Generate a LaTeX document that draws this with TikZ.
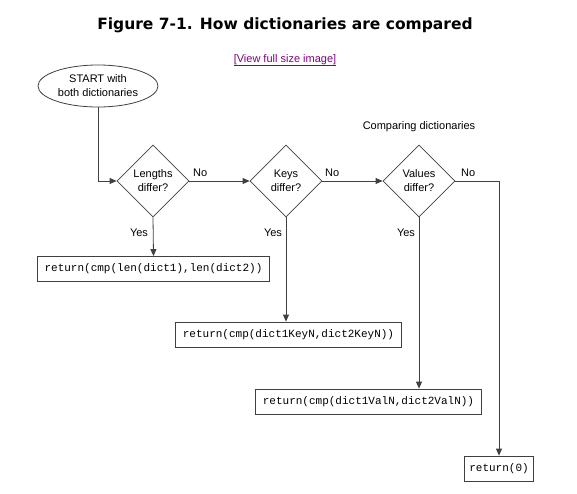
\documentclass[tikz,border=0pt]{standalone}
\usepackage{fontspec}
\setmainfont{Liberation Sans}
\setmonofont{Liberation Mono}
\newfontfamily\titlefont{DejaVu Sans}
\usetikzlibrary{shapes.geometric,arrows.meta}
\definecolor{ln}{HTML}{404040}
\definecolor{linkc}{HTML}{800080}
\begin{document}
\begin{tikzpicture}[x=1pt,y=-1pt,
  every node/.style={font=\fontsize{11}{14}\selectfont, text=black},
  dec/.style={draw=ln, diamond, aspect=1, minimum width=72pt, minimum height=72pt, inner sep=0pt, align=center, line width=0.8pt},
  retbox/.style={draw=ln, line width=0.8pt, font=\ttfamily\fontsize{11}{13}\selectfont, inner xsep=7pt, minimum height=25pt},
  conn/.style={draw=ln, line width=0.8pt},
  arr/.style={conn, -{Triangle[length=7pt,width=6pt]}},
  lbl/.style={inner sep=0pt}]
\useasboundingbox (0,0) rectangle (577,493);
\node[font=\titlefont\bfseries\fontsize{15.5}{18}\selectfont, anchor=base] (title) at (285,29) {Figure 7-1. How dictionaries are compared};
\node[text=linkc, font=\fontsize{11}{13}\selectfont, anchor=base] (link) at (285,62) {\underline{[View full size image]}};
\node[draw=ln, ellipse, minimum width=120pt, minimum height=42pt, inner sep=0pt, align=center, line width=0.8pt] (start) at (98,86) {START with\\both dictionaries};
\node[dec] (len) at (153,181) {Lengths\\differ?};
\node[dec] (key) at (286,181) {Keys\\differ?};
\node[dec] (val) at (419,181) {Values\\differ?};
\node[retbox] (r1) at (153.5,269) {return(cmp(len(dict1),len(dict2))};
\node[retbox] (r2) at (288.5,334.5) {return(cmp(dict1KeyN,dict2KeyN))};
\node[retbox] (r3) at (368.5,401.5) {return(cmp(dict1ValN,dict2ValN))};
\node[retbox, inner xsep=5pt] (r0) at (499,468.5) {return(0)};
\node[lbl] (cmp) at (419,127) {Comparing dictionaries};
\draw[arr] (start.south) |- (len.west);
\draw[arr] (len.east) -- (key.west);
\draw[arr] (key.east) -- (val.west);
\draw[arr] (val.east) -| (r0.north);
\draw[arr] (len.south) -- (r1.north);
\draw[arr] (key.south) -- (key.south |- r2.north);
\draw[arr] (val.south) -- (val.south |- r3.north);
\node[lbl, anchor=west] (no1) at (193,173) {No};
\node[lbl, anchor=west] (no2) at (325,173) {No};
\node[lbl, anchor=west] (no3) at (461,173) {No};
\node[lbl] (yes1) at (139,233) {Yes};
\node[lbl] (yes2) at (273,233) {Yes};
\node[lbl] (yes3) at (406,233) {Yes};
\end{tikzpicture}
\end{document}
